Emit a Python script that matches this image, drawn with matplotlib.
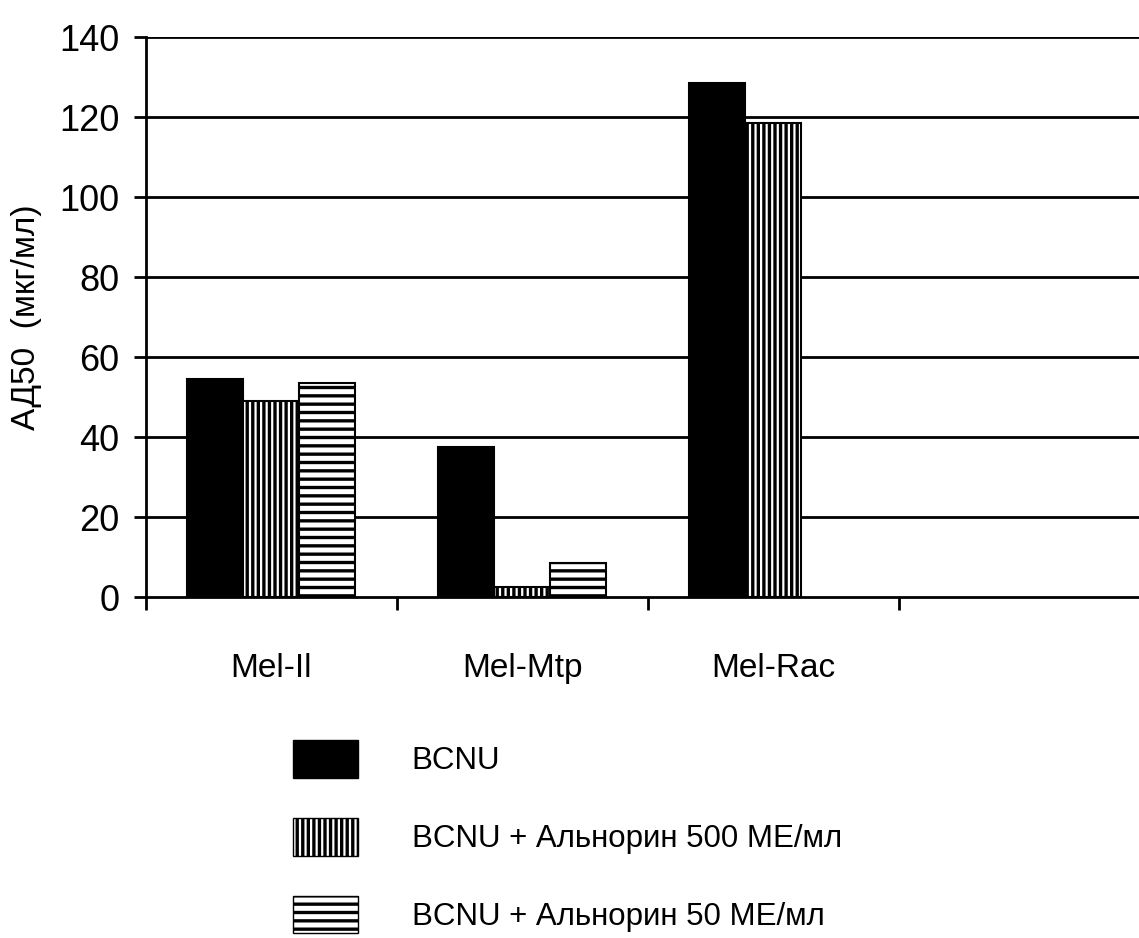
import numpy as np
import matplotlib.pyplot as plt
from matplotlib.patches import Patch

plt.rcParams['font.family'] = ['Liberation Sans', 'DejaVu Sans']
plt.rcParams['hatch.linewidth'] = 2.4

# data
lines = ['Mel-Il', 'Mel-Mtp', 'Mel-Rac']
bcnu = [54.5, 37.5, 128.5]
alno500 = [49.0, 2.5, 118.5]
alno50 = [53.5, 8.5, np.nan]
series_names = ['BCNU', 'BCNU + Альнорин 500 МЕ/мл', 'BCNU + Альнорин 50 МЕ/мл']

fig = plt.figure(figsize=(11.39, 9.38), dpi=100)
ax = fig.add_axes([0.128, 0.3635, 0.872, 0.597])

x = np.arange(len(lines)) + 0.5
w = 0.223
ax.bar(x - w, bcnu, w, color='black', edgecolor='black', linewidth=1.5, zorder=3)
ax.bar(x, alno500, w, color='white', edgecolor='black', hatch='|||', linewidth=1.5, zorder=3)
ax.bar(x + w, alno50, w, color='white', edgecolor='black', hatch='--', linewidth=1.5, zorder=3)

ax.set_xlim(0, 3.956)
ax.set_ylim(0, 140)
ax.set_yticks(np.arange(0, 141, 20))
ax.tick_params(axis='y', labelsize=26, length=9, width=2, pad=10)
ax.set_xticks([0, 1, 2, 3])
ax.set_xticklabels([])
ax.tick_params(axis='x', which='major', length=9, width=2)
ax.set_xticks(x, minor=True)
ax.set_xticklabels(lines, minor=True, fontsize=24)
ax.tick_params(axis='x', which='minor', length=0, pad=40)

for y in range(20, 141, 20):
    ax.axhline(y, color='black', linewidth=2, zorder=1)

for s in ['top', 'right']:
    ax.spines[s].set_visible(False)
ax.spines['left'].set_linewidth(2)
ax.spines['bottom'].set_linewidth(2)

ax.set_ylabel('АД50  (мкг/мл)', fontsize=24)
ax.yaxis.set_label_coords(-0.105, 0.5)

handles = [
    Patch(facecolor='black', edgecolor='black'),
    Patch(facecolor='white', edgecolor='black', hatch='|||'),
    Patch(facecolor='white', edgecolor='black', hatch='--'),
]
fig.legend(handles, series_names, loc='upper left', bbox_to_anchor=(0.257, 0.211),
           frameon=False, fontsize=22.5, handlelength=2.08, handleheight=1.48,
           labelspacing=1.28, handletextpad=1.73, borderpad=0, borderaxespad=0)

fig.savefig('out.png', dpi=100)
